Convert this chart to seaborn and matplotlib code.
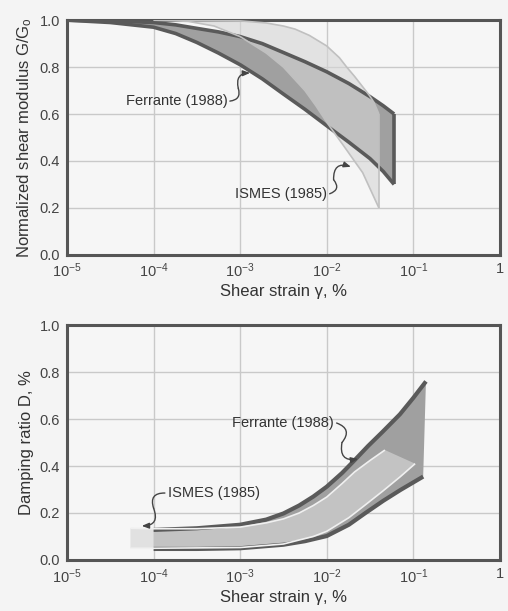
import numpy as np
import pandas as pd
import matplotlib
matplotlib.use("Agg")
import matplotlib.pyplot as plt
import seaborn as sns
from matplotlib.patches import Rectangle

# ---------------- data ----------------
# Top: normalized shear modulus G/Go
g_fer_up_x = [1e-5, 3.16e-5, 1e-4, 1.8e-4, 3.16e-4, 5.6e-4, 1e-3, 1.8e-3, 3.16e-3, 5.6e-3,
              1e-2, 1.8e-2, 3.16e-2, 4.5e-2, 6e-2]
g_fer_up_y = [1.00, 0.997, 0.99, 0.98, 0.965, 0.95, 0.93, 0.90, 0.862, 0.823,
              0.78, 0.73, 0.674, 0.635, 0.60]
g_fer_lo_x = [1e-5, 3.16e-5, 1e-4, 1.8e-4, 3.16e-4, 5.6e-4, 1e-3, 1.8e-3, 3.16e-3, 5.6e-3,
              1e-2, 1.8e-2, 3.16e-2, 4.5e-2, 6e-2]
g_fer_lo_y = [1.00, 0.99, 0.97, 0.943, 0.905, 0.86, 0.81, 0.75, 0.685, 0.62,
              0.55, 0.48, 0.41, 0.355, 0.30]

g_ism_up_x = [1e-4, 2.5e-4, 1e-3, 2e-3, 3.16e-3, 4.3e-3, 6.3e-3, 1e-2, 1.4e-2, 1.7e-2,
              2.1e-2, 2.6e-2, 3.1e-2, 3.5e-2, 4e-2]
g_ism_up_y = [1.00, 1.00, 0.997, 0.988, 0.975, 0.962, 0.935, 0.89, 0.84, 0.80,
              0.76, 0.716, 0.68, 0.65, 0.60]
g_ism_lo_x = [1e-4, 2.5e-4, 5e-4, 1e-3, 2e-3, 3.16e-3, 5.6e-3, 7.5e-3, 1e-2, 1.6e-2, 2.6e-2, 4e-2]
g_ism_lo_y = [1.00, 0.995, 0.975, 0.93, 0.86, 0.80, 0.70, 0.635, 0.565, 0.46, 0.35, 0.20]

# Bottom: damping ratio D
d_fer_up_x = [1e-4, 3.16e-4, 1e-3, 2e-3, 3.16e-3, 4.8e-3, 7e-3, 1e-2, 1.5e-2, 2.1e-2,
              3e-2, 4.4e-2, 7e-2, 1e-1, 1.4e-1]
d_fer_up_y = [0.128, 0.135, 0.15, 0.172, 0.198, 0.232, 0.27, 0.312, 0.37, 0.425,
              0.485, 0.545, 0.62, 0.69, 0.76]
d_fer_lo_x = [1e-4, 3.16e-4, 1e-3, 3.16e-3, 5.6e-3, 1e-2, 1.8e-2, 2.8e-2, 4.5e-2, 7.1e-2, 1.3e-1]
d_fer_lo_y = [0.047, 0.047, 0.05, 0.065, 0.08, 0.102, 0.15, 0.2, 0.252, 0.298, 0.355]

d_ism_up_x = [5.4e-5, 1e-4, 3.16e-4, 1e-3, 2e-3, 3.16e-3, 4.8e-3, 7e-3, 1e-2, 1.5e-2,
              2.1e-2, 3.2e-2, 4.7e-2]
d_ism_up_y = [0.135, 0.133, 0.133, 0.14, 0.158, 0.175, 0.20, 0.232, 0.268, 0.325,
              0.375, 0.425, 0.468]
d_ism_lo_x = [5.4e-5, 1e-4, 1e-3, 3.16e-3, 4.8e-3, 7e-3, 1e-2, 1.8e-2, 2.8e-2, 4.5e-2, 7.1e-2, 1.05e-1]
d_ism_lo_y = [0.05, 0.05, 0.053, 0.068, 0.085, 0.10, 0.122, 0.18, 0.235, 0.295, 0.355, 0.41]

x_ticks = [1e-5, 1e-4, 1e-3, 1e-2, 1e-1, 1]
x_tick_labels = [r"10$^{-5}$", r"10$^{-4}$", r"10$^{-3}$", r"10$^{-2}$", r"10$^{-1}$", "1"]
y_ticks = [0.0, 0.2, 0.4, 0.6, 0.8, 1.0]
y_tick_labels = ["0.0", "0.2", "0.4", "0.6", "0.8", "1.0"]

# ---------------- style ----------------
sns.set_theme(style="whitegrid")
plt.rcParams["font.family"] = ["Liberation Sans", "DejaVu Sans"]
plt.rcParams["mathtext.fontset"] = "custom"
plt.rcParams["mathtext.rm"] = "Liberation Sans"
plt.rcParams["mathtext.it"] = "Liberation Sans:italic"

BG = "#f4f4f4"
fig = plt.figure(figsize=(5.08, 6.11), dpi=100, facecolor=BG)
ax1 = fig.add_axes([0.132, 0.583, 0.852, 0.384])
ax2 = fig.add_axes([0.132, 0.0835, 0.852, 0.3845])

FER_FILL = "#a0a0a0"
FER_EDGE = "#5a5a5a"
ISM_FILL = "#d6d6d6"
ISM_EDGE_TOP = "#c0c0c0"
ISM_EDGE_BOT = "#f0f0f0"


def band(ax, ux, uy, lx, ly, color, alpha, z):
    px = list(ux) + list(lx)[::-1]
    py = list(uy) + list(ly)[::-1]
    ax.fill(px, py, color=color, alpha=alpha, lw=0, zorder=z)


def edge(ax, x, y, color, lw, z):
    df = pd.DataFrame({"x": x, "y": y})
    sns.lineplot(data=df, x="x", y="y", ax=ax, color=color, lw=lw,
                 sort=False, estimator=None, zorder=z,
                 solid_capstyle="butt", solid_joinstyle="round")


for ax in (ax1, ax2):
    ax.set_xscale("log")
    ax.set_facecolor("#f6f6f6")
    ax.set_xlim(1e-5, 1)
    ax.set_ylim(0, 1)
    ax.set_xticks(x_ticks)
    ax.set_xticklabels(x_tick_labels)
    ax.set_yticks(y_ticks)
    ax.set_yticklabels(y_tick_labels)
    ax.minorticks_off()
    ax.grid(True, color="#c9c9c9", lw=1.0)
    ax.set_axisbelow(True)
    ax.tick_params(length=0, labelsize=10.5, colors="#444444", pad=5)
    for s in ax.spines.values():
        s.set_color("#555555")
        s.set_linewidth(2.2)
    ax.set_xlabel("Shear strain \u03b3, %", fontsize=12, color="#333333", labelpad=3)
    pos = ax.get_position()
    fig.patches.append(Rectangle((pos.x0 + 0.004, pos.y0 - 0.004), pos.width, pos.height,
                                 transform=fig.transFigure, facecolor="#bdbdbd",
                                 edgecolor="none", zorder=-5))

# ---- top panel ----
band(ax1, g_fer_up_x, g_fer_up_y, g_fer_lo_x, g_fer_lo_y, FER_FILL, 1.0, 2)
band(ax1, g_ism_up_x, g_ism_up_y, g_ism_lo_x, g_ism_lo_y, ISM_FILL, 0.6, 3)
edge(ax1, g_fer_up_x, g_fer_up_y, FER_EDGE, 2.6, 4)
edge(ax1, g_fer_lo_x, g_fer_lo_y, FER_EDGE, 2.6, 4)
edge(ax1, [g_fer_up_x[-1], g_fer_lo_x[-1]], [g_fer_up_y[-1], g_fer_lo_y[-1]], FER_EDGE, 2.6, 4)
edge(ax1, g_ism_up_x, g_ism_up_y, ISM_EDGE_TOP, 1.2, 5)
edge(ax1, g_ism_lo_x, g_ism_lo_y, ISM_EDGE_TOP, 1.2, 5)
edge(ax1, [g_ism_up_x[-1], g_ism_lo_x[-1]], [g_ism_up_y[-1], g_ism_lo_y[-1]], ISM_EDGE_TOP, 1.2, 5)
ax1.set_ylabel("Normalized shear modulus G/G$_{\\mathrm{o}}$", fontsize=12,
               color="#333333", labelpad=4)

# ---- bottom panel ----
band(ax2, d_fer_up_x, d_fer_up_y, d_fer_lo_x, d_fer_lo_y, FER_FILL, 1.0, 2)
band(ax2, d_ism_up_x, d_ism_up_y, d_ism_lo_x, d_ism_lo_y, ISM_FILL, 0.65, 3)
edge(ax2, d_fer_up_x, d_fer_up_y, FER_EDGE, 3.0, 4)
edge(ax2, d_fer_lo_x, d_fer_lo_y, FER_EDGE, 3.0, 4)
edge(ax2, d_ism_up_x, d_ism_up_y, ISM_EDGE_BOT, 1.2, 5)
edge(ax2, d_ism_lo_x, d_ism_lo_y, ISM_EDGE_BOT, 1.2, 5)
ax2.set_ylabel("Damping ratio D, %", fontsize=12, color="#333333", labelpad=4)


# ---- annotations (S-shaped leader lines) ----
def label(ax, text, tx, ty, sx, mx, my, px, py, r1, r2, ha):
    ax.text(tx, ty, text, fontsize=10.5, color="#333333", ha=ha, va="center", zorder=6)
    ax.annotate("", xy=(mx, my), xytext=(sx, ty),
                arrowprops=dict(arrowstyle="-", color="#444444", lw=1.0,
                                connectionstyle=f"arc3,rad={r1}", shrinkA=0, shrinkB=0),
                zorder=6)
    ax.annotate("", xy=(px, py), xytext=(mx, my),
                arrowprops=dict(arrowstyle="-|>,head_length=0.35,head_width=0.14",
                                color="#444444", lw=1.0,
                                connectionstyle=f"arc3,rad={r2}", shrinkA=0, shrinkB=0),
                zorder=6)


label(ax1, "Ferrante (1988)", 7.2e-4, 0.655, 7.6e-4, 9.5e-4, 0.71, 1.3e-3, 0.775, 0.6, -0.6, "right")
label(ax1, "ISMES (1985)", 1.0e-2, 0.26, 1.08e-2, 1.2e-2, 0.32, 1.9e-2, 0.375, 0.7, -0.7, "right")
label(ax2, "Ferrante (1988)", 1.2e-2, 0.583, 1.3e-2, 1.5e-2, 0.50, 2.3e-2, 0.43, -0.7, 0.7, "right")
label(ax2, "ISMES (1985)", 1.45e-4, 0.285, 1.35e-4, 1.0e-4, 0.22, 7.3e-5, 0.145, 0.7, -0.7, "left")

fig.savefig("out.png", dpi=100, facecolor=BG)
